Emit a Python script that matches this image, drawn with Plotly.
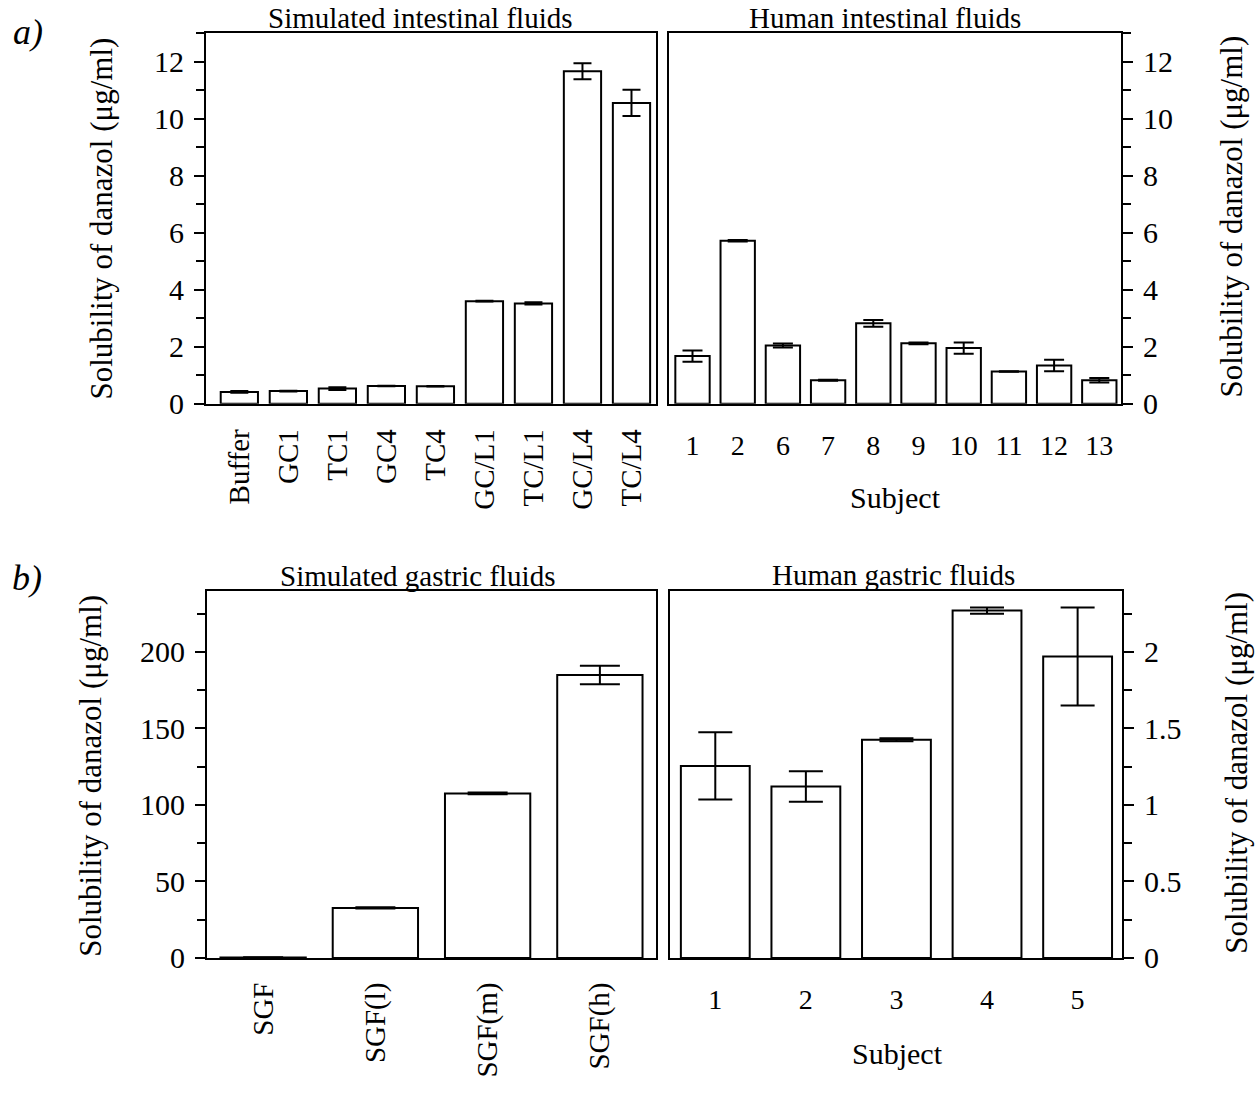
import plotly.graph_objects as go

W, H = 1259, 1097

# ---------------- data ----------------
sif_labels = ["Buffer", "GC1", "TC1", "GC4", "TC4", "GC/L1", "TC/L1", "GC/L4", "TC/L4"]
sif_values = [0.41, 0.44, 0.53, 0.62, 0.61, 3.60, 3.52, 11.67, 10.56]
sif_err = [0.03, 0.01, 0.05, 0.01, 0.01, 0.01, 0.04, 0.28, 0.46]

hif_labels = ["1", "2", "6", "7", "8", "9", "10", "11", "12", "13"]
hif_values = [1.67, 5.72, 2.04, 0.82, 2.82, 2.12, 1.95, 1.13, 1.34, 0.82]
hif_err = [0.20, 0.03, 0.07, 0.02, 0.12, 0.03, 0.20, 0.01, 0.20, 0.08]

sgf_labels = ["SGF", "SGF(l)", "SGF(m)", "SGF(h)"]
sgf_values = [0.3, 32.7, 107.5, 184.9]
sgf_err = [0.1, 0.4, 0.6, 6.0]

hgf_labels = ["1", "2", "3", "4", "5"]
hgf_values = [1.255, 1.12, 1.426, 2.27, 1.97]
hgf_err = [0.22, 0.10, 0.01, 0.02, 0.32]

FONT = "Liberation Serif"
BLACK = "black"


def px_x(p):
    return p / W


def px_y(p):
    return 1 - p / H


fig = go.Figure()


def add_bars(x, y, err, xa, ya, cap):
    fig.add_trace(go.Bar(
        x=x, y=y, xaxis=xa, yaxis=ya, width=0.76,
        marker=dict(color="white", line=dict(color=BLACK, width=2)),
        error_y=dict(type="data", array=err, visible=True, color=BLACK,
                     thickness=2, width=cap),
        showlegend=False, hoverinfo="skip",
    ))


add_bars(sif_labels, sif_values, sif_err, "x", "y", 9)
add_bars(hif_labels, hif_values, hif_err, "x2", "y2", 10)
add_bars(sgf_labels, sgf_values, sgf_err, "x3", "y3", 20)
add_bars(hgf_labels, hgf_values, hgf_err, "x4", "y4", 17)

ytickfont = dict(family=FONT, size=30, color=BLACK)
xtickfont = dict(family=FONT, size=29, color=BLACK)

common_x = dict(showline=True, linecolor=BLACK, linewidth=2, mirror=True,
                ticks="", showgrid=False, zeroline=False, type="category",
                tickfont=xtickfont, fixedrange=True)
common_y = dict(showline=True, linecolor=BLACK, linewidth=2, mirror=True,
                ticks="outside", ticklen=10, tickwidth=2, tickcolor=BLACK,
                showgrid=False, zeroline=False, tickfont=ytickfont, fixedrange=True,
                minor=dict(ticks="outside", ticklen=8, tickwidth=2, tickcolor=BLACK, showgrid=False))

top_dom = [px_y(410), px_y(34)]
bot_dom = [px_y(973), px_y(600)]

fig.update_layout(
    width=W, height=H,
    margin=dict(l=0, r=0, t=0, b=0),
    paper_bgcolor="white", plot_bgcolor="white",
    bargap=0.24,
    font=dict(family=FONT, color=BLACK),
    xaxis=dict(common_x, domain=[px_x(206), px_x(656)], anchor="y",
               range=[-0.68, 8.5], tickangle=-90, ticklabelstandoff=12),
    yaxis=dict(common_y, domain=top_dom, anchor="x", range=[0, 13],
               tickvals=[0, 2, 4, 6, 8, 10, 12], minor_dtick=1, ticklabelstandoff=4),
    xaxis2=dict(common_x, domain=[px_x(669), px_x(1121)], anchor="y2",
                range=[-0.52, 9.48], ticklabelstandoff=16, tickfont=dict(xtickfont, size=28)),
    yaxis2=dict(common_y, domain=top_dom, anchor="x2", side="right", range=[0, 13],
                tickvals=[0, 2, 4, 6, 8, 10, 12], minor_dtick=1, ticklabelstandoff=4),
    xaxis3=dict(common_x, domain=[px_x(207), px_x(656)], anchor="y3",
                range=[-0.5, 3.5], tickangle=-90, ticklabelstandoff=11),
    yaxis3=dict(common_y, domain=bot_dom, anchor="x3", range=[0, 240],
                tickvals=[0, 50, 100, 150, 200], minor_dtick=25, ticklabelstandoff=4),
    xaxis4=dict(common_x, domain=[px_x(670), px_x(1122)], anchor="y4",
                range=[-0.5, 4.49], ticklabelstandoff=15, tickfont=dict(xtickfont, size=28)),
    yaxis4=dict(common_y, domain=bot_dom, anchor="x4", side="right", range=[0, 2.4],
                tickvals=[0, 0.5, 1, 1.5, 2], ticktext=["0", "0.5", "1", "1.5", "2"],
                minor_dtick=0.25, ticklabelstandoff=4),
)

ytitle = "Solubility of danazol (\u03bcg/ml)"


def ann(text, x, y, size, angle=0, italic=False):
    t = f"<i>{text}</i>" if italic else text
    fig.add_annotation(text=t, x=px_x(x), y=px_y(y), xref="paper", yref="paper",
                       showarrow=False, textangle=angle, xanchor="center", yanchor="middle",
                       font=dict(family=FONT, size=size, color=BLACK))


ann("a)", 28, 32, 36, italic=True)
ann("b)", 27, 587, 36, italic=True)
ann("Simulated intestinal fluids", 420, 18, 29)
ann("Human intestinal fluids", 885, 18, 29)
ann("Simulated gastric fluids", 417, 585, 29)
ann("Human gastric fluids", 893, 584, 29)
ann(ytitle, 102, 222, 31, angle=-90)
ann(ytitle, 1232, 220, 31, angle=-90)
ann(ytitle, 91, 788, 31, angle=-90)
ann(ytitle, 1237, 785, 31, angle=-90)
ann("Subject", 895, 505, 30)
ann("Subject", 897, 1070, 30)

post = (
    "document.documentElement.style.margin='0';"
    "document.documentElement.style.padding='0';"
    "document.documentElement.style.overflow='hidden';"
    "document.body.style.margin='0';"
    "document.body.style.padding='0';"
    "document.body.style.overflow='hidden';"
    "document.body.style.lineHeight='0';"
    "document.body.style.fontSize='0';"
)

fig.write_html(
    "out.html",
    config={"displayModeBar": False, "staticPlot": True},
    post_script=post,
)
